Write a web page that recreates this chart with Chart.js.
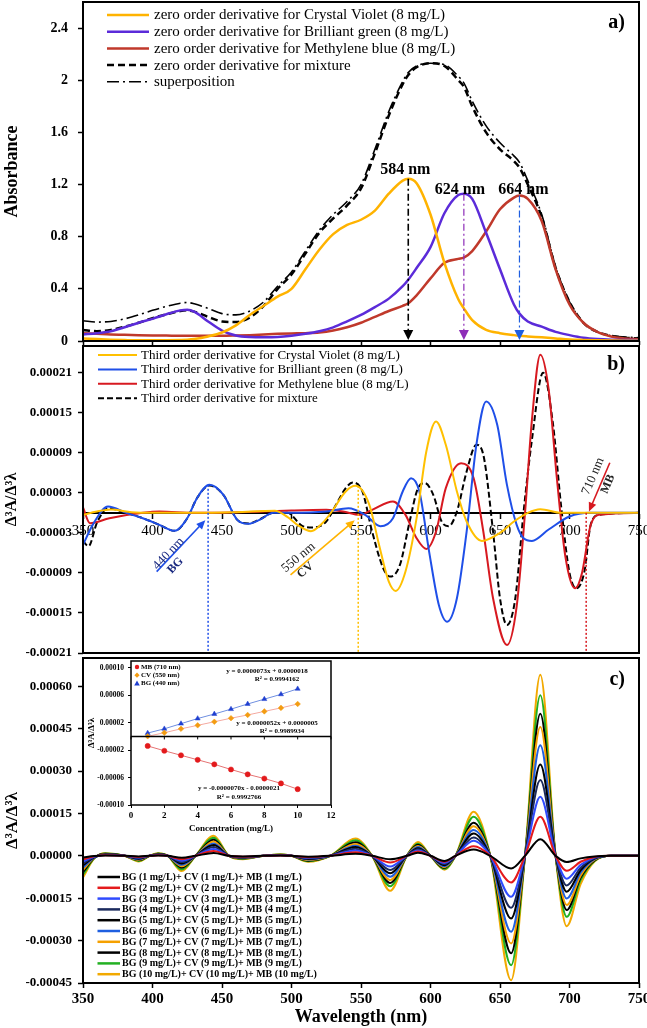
<!DOCTYPE html>
<html>
<head>
<meta charset="utf-8">
<script src="https://cdn.jsdelivr.net/npm/chart.js@4.4.0/dist/chart.umd.min.js"></script>
<style>
html, body { margin: 0; padding: 0; background: #fff; }
body { width: 647px; height: 1028px; position: relative; overflow: hidden; }
canvas { position: absolute; }
#ca { left: 0; top: 0; }
#cb { left: 0; top: 343px; }
#cc { left: 0; top: 656px; }
#ci { left: 86px; top: 655px; }
</style>
</head>
<body>
<canvas id="ca" width="647" height="345"></canvas>
<canvas id="cb" width="647" height="313"></canvas>
<canvas id="cc" width="647" height="372"></canvas>
<canvas id="ci" width="254" height="180"></canvas>
<script>
var SERIF = '"Liberation Serif", "Times New Roman", serif';
var U = 1e-5; // panel b/c values are written in units of 1e-5

// ---- a) zero order spectra (absorbance) ----
var aX = [350,360,370,380,390,400,410,420,425,430,440,450,460,470,480,490,500,510,520,530,540,550,560,570,580,584,590,600,610,620,624,630,640,650,660,664,670,680,690,700,710,720,730,740,750];
var cvZero = [.02,.015,.01,.007,.005,.005,.006,.008,.01,.015,.035,.065,.12,.2,.27,.34,.40,.55,.70,.82,.89,.93,1.0,1.13,1.23,1.245,1.21,.97,.60,.32,.25,.16,.085,.06,.045,.04,.035,.028,.02,.012,.008,.005,.003,.002,.002];
var bgZero = [.05,.06,.075,.105,.14,.17,.205,.235,.24,.225,.15,.08,.042,.03,.028,.03,.04,.055,.075,.105,.15,.2,.26,.325,.42,.47,.56,.72,.98,1.12,1.13,1.09,.83,.55,.28,.21,.15,.11,.07,.045,.025,.015,.01,.008,.006];
var mbZero = [.06,.055,.05,.048,.045,.043,.042,.04,.04,.04,.04,.04,.042,.045,.05,.055,.058,.06,.065,.08,.105,.14,.185,.23,.27,.29,.35,.48,.6,.63,.64,.69,.84,1.01,1.1,1.115,1.09,.92,.55,.28,.14,.07,.035,.02,.012];
var mixZero = [.085,.075,.085,.11,.14,.175,.205,.23,.235,.225,.185,.15,.145,.18,.27,.4,.51,.67,.83,.94,1.04,1.17,1.44,1.73,1.97,2.04,2.1,2.13,2.11,2.0,1.95,1.8,1.6,1.47,1.38,1.33,1.2,.95,.56,.3,.14,.07,.04,.025,.02];
var supZero = [.155,.145,.15,.17,.2,.235,.265,.29,.295,.285,.25,.21,.2,.23,.3,.42,.53,.69,.85,.97,1.07,1.2,1.47,1.76,1.99,2.06,2.11,2.13,2.12,2.03,1.98,1.84,1.65,1.52,1.42,1.37,1.23,.97,.57,.3,.14,.07,.04,.03,.025];
var peakNm = [584, 624, 664];
var aYTicks = [0, 0.4, 0.8, 1.2, 1.6, 2, 2.4];
var nmTicks = [350, 400, 450, 500, 550, 600, 650, 700, 750];

// ---- b) third order derivative, 8 mg/L ----
var cvD3x = [350,360,370,385,400,430,460,488,497,505,514,522,529,539,546,556,563,570,575,582,590,597,604,611,619,626,637,650,660,670,679,694,710,750];
var cvD3 = [-0.3,0.2,0.5,0.1,0,0,0.1,0.3,-0.6,-1.9,-2.75,-1.6,0.2,3.2,4.05,1.2,-4.8,-10.3,-11.7,-8.8,-0.8,9.2,13.7,10.2,3.2,-1.3,-4.2,-3.0,-1.3,0,0.55,0,0,0];
var bgD3x = [350,357,368,381,393,405,416,425,432,441,451,461,469,477,487,500,525,541,553,564,573,580,586,592,599,606,612,619,626,633,640,648,655,662,667,673,685,700,715,750];
var bgD3 = [-4.8,-1.8,0.95,0,-0.8,-1.8,-2.7,-0.8,2.2,4.2,2.7,-1.05,-1.65,-1.05,0,0,0.2,0.7,-0.3,-2.0,-0.8,3.2,5.2,3.2,-5.8,-13.8,-16.3,-12.8,-2.8,10.2,16.7,13.2,4.2,-1.8,-3.8,-4.2,-2.5,-0.55,0,0];
var mbD3x = [350,355,369,393,405,430,480,500,525,537,549,558,573,582,590,597,604,611,622,631,638,645,655,662,668,673,679,685,691,697,704,709,715,721,750];
var mbD3 = [0.8,-1.55,-0.8,0,0.2,0,0.2,0.35,0.45,0.2,-0.3,0.45,1.7,-0.3,-3.8,-5.4,-2.8,3.7,7.45,5.2,-2.8,-12.8,-19.8,-14,0,14,23.7,18.5,5,-6.5,-11.3,-9,-2,-0.3,0];
var mixD3x = [350,354,360,368,381,393,405,416,425,432,441,451,461,469,477,487,497,508,515,525,532,539,544,551,558,566,571,578,585,591,596,602,608,613,619,626,633,638,645,650,655,661,667,673,681,688,694,700,705,711,715,721,750];
var mixD3 = [-4.2,-5.0,-1.5,0.7,0,-0.8,-1.8,-2.7,-0.8,2.2,4.1,2.7,-1.05,-1.6,-1.0,0,0,-2.0,-2.2,-1.3,1.2,3.7,4.55,3.2,-2.8,-8.3,-9.55,-7.8,-1.3,3.7,4.45,2.7,-1.3,-2.0,0.2,6.2,10.2,8.7,-2.8,-12.8,-16.8,-12.8,0.2,11,21,13.5,0.95,-9,-11.3,-8.5,-2,-0.3,0];
var markNm = [440, 548, 712];
var bYTicks = [-0.00021, -0.00015, -0.00009, -0.00003, 0.00003, 0.00009, 0.00015, 0.00021];

// ---- c) third order derivative of mixtures, 1-10 mg/L ----
var cX = [350,358,366,380,390,398,404,411,421,431,444,455,465,480,492,500,512,528,546,558,571,583,591,600,610,618,631,643,658,668,679,690,698,708,718,730,750];
var mix1 = [-0.6,-0.1,0.1,0,-0.2,0,0.1,0,-0.7,0,1.0,0,-0.2,0,0.1,0,-0.3,0,0.7,0,-1.2,0,1.1,0,-1.8,0,2.2,0,-4.5,0,5.9,0,-2.2,-0.9,-0.2,0,0];
var mix2 = [-1.3,-0.2,0.2,0,-0.4,0,0.2,0,-1.2,0,1.7,0,-0.3,0,0.1,0,-0.5,0,1.3,0,-2.4,0,1.5,0,-2.1,0,3.4,0,-9.4,0,13.8,0,-5.3,-2.1,-0.4,0,0];
var mix3 = [-2.0,-0.3,0.3,0,-0.6,0,0.3,0,-1.7,0,2.4,0,-0.4,0,0.2,0,-0.7,0,1.9,0,-3.8,0,1.9,0,-2.5,0,5.3,0,-14.5,0,20.9,0,-8.1,-3.2,-0.6,0,0];
var mix4 = [-2.7,-0.4,0.4,0,-0.8,0,0.4,0,-2.2,0,3.1,0,-0.5,0,0.2,0,-0.9,0,2.5,0,-5.0,0,2.3,0,-2.9,0,6.5,0,-18.4,0,26.8,0,-10.5,-4.2,-0.8,0,0];
var mix5 = [-3.4,-0.5,0.5,0,-1.0,0,0.5,0,-2.7,0,3.8,0,-0.6,0,0.3,0,-1.1,0,3.1,0,-6.2,0,2.7,0,-3.3,0,7.9,0,-22.2,0,32.3,0,-12.7,-5.1,-1.0,0,0];
var mix6 = [-4.2,-0.6,0.5,0,-1.2,0,0.5,0,-3.2,0,4.4,0,-0.7,0,0.3,0,-1.3,0,3.6,0,-7.4,0,3.1,0,-3.7,0,9.1,0,-26.9,0,39.1,0,-15.1,-6.0,-1.2,0,0];
var mix7 = [-5.0,-0.7,0.6,0,-1.4,0,0.6,0,-3.7,0,5.1,0,-0.8,0,0.4,0,-1.5,0,4.2,0,-8.6,0,3.5,0,-4.0,0,10.5,0,-31.0,0,45.6,0,-17.4,-7.0,-1.4,0,0];
var mix8 = [-5.8,-0.8,0.7,0,-1.6,0,0.7,0,-4.2,0,5.7,0,-0.9,0,0.4,0,-1.7,0,4.8,0,-9.6,0,3.9,0,-4.3,0,11.7,0,-34.5,0,50.3,0,-19.2,-7.7,-1.6,0,0];
var mix9 = [-6.7,-0.9,0.8,0,-1.8,0,0.8,0,-4.8,0,6.4,0,-1.0,0,0.5,0,-1.9,0,5.5,0,-10.8,0,4.3,0,-4.6,0,13.8,0,-38.7,0,56.8,0,-21.6,-8.6,-1.8,0,0];
var mix10 = [-7.7,-1.0,0.9,0,-2.0,0,0.9,0,-5.4,0,7.1,0,-1.2,0,0.5,0,-2.1,0,6.1,0,-12.4,0,4.9,0,-4.9,0,15.6,0,-44.0,0,64.1,0,-24.9,-10.0,-2.0,0,0];
var conc = [1, 2, 3, 4, 5, 6, 7, 8, 9, 10];
var cYTicks = [-0.00045, -0.0003, -0.00015, 0, 0.00015, 0.0003, 0.00045, 0.0006];

// ---- inset calibration ----
var mbCal = [-1.39,-2.09,-2.75,-3.41,-4.07,-4.82,-5.53,-6.14,-6.85,-7.69];
var cvCal = [0.02,0.54,1.11,1.62,2.14,2.66,3.13,3.65,4.16,4.73];
var bgCal = [0.49,1.11,1.86,2.61,3.27,3.98,4.73,5.44,6.14,6.94];
var calXTicks = [0, 2, 4, 6, 8, 10, 12];
var calYTicks = [-0.0001, -0.00006, -0.00002, 0.00002, 0.00006, 0.0001];

// ---------- helpers ----------
function line(label, xs, ys, color, width, dash, k) {
  k = k || 1;
  return {
    label: label,
    data: xs.map(function (x, i) { return { x: x, y: ys[i] * k }; }),
    borderColor: color, backgroundColor: color,
    borderWidth: width, borderDash: dash || [],
    pointRadius: 0, fill: false,
    cubicInterpolationMode: 'monotone',
    borderJoinStyle: 'round'
  };
}
function fixTicks(list) { return function (s) { s.ticks = list.map(function (v) { return { value: v }; }); }; }
function fitW(w) { return function (s) { s.width = w; s.paddingTop = 0; s.paddingBottom = 0; }; }
function fitH(h) { return function (s) { s.height = h; s.paddingLeft = 0; s.paddingRight = 0; }; }
function valueAt(xs, ys, nm) {
  var best = 0;
  xs.forEach(function (x, i) { if (Math.abs(x - nm) < Math.abs(xs[best] - nm)) best = i; });
  return ys[best];
}
function yAxis(min, max, ticks, fmt, size, pad, title, tsize) {
  return {
    type: 'linear', min: min, max: max,
    afterBuildTicks: fixTicks(ticks), afterFit: fitW(83),
    ticks: { color: '#000', font: { family: SERIF, size: size, weight: 'bold' }, padding: pad, callback: fmt, autoSkip: false },
    grid: { drawOnChartArea: false, tickLength: 5, tickColor: '#000', tickWidth: 1.5 },
    border: { display: false },
    title: { display: true, text: title, color: '#000', font: { family: SERIF, size: tsize, weight: 'bold' }, padding: { top: 2, bottom: 0 } }
  };
}

var frame = {
  id: 'frame',
  afterDraw: function (chart, args, o) {
    var ctx = chart.ctx, a = chart.chartArea;
    ctx.save();
    ctx.strokeStyle = '#000';
    ctx.lineWidth = o.width || 2;
    ctx.strokeRect(a.left, a.top, a.right - a.left, a.bottom - a.top);
    if (o.tag) {
      ctx.fillStyle = '#000';
      ctx.font = 'bold 20px ' + SERIF;
      ctx.textAlign = 'right';
      ctx.textBaseline = 'middle';
      ctx.fillText(o.tag, a.right - 14, a.top + o.tagY);
    }
    ctx.restore();
  }
};

var lineLegend = {
  id: 'lineLegend',
  afterDraw: function (chart, args, o) {
    var ctx = chart.ctx, a = chart.chartArea;
    ctx.save();
    ctx.font = o.font;
    ctx.textAlign = 'left';
    ctx.textBaseline = 'middle';
    chart.data.datasets.forEach(function (ds, k) {
      var y = a.top + o.top + k * o.step, x0 = a.left + o.left;
      ctx.strokeStyle = ds.borderColor;
      ctx.lineWidth = o.lw || ds.borderWidth;
      ctx.setLineDash(ds.borderDash || []);
      ctx.beginPath(); ctx.moveTo(x0, y); ctx.lineTo(x0 + o.len, y); ctx.stroke();
      ctx.setLineDash([]);
      ctx.fillStyle = '#000';
      ctx.fillText(ds.label, x0 + o.len + o.gap, y + 0.5);
    });
    ctx.restore();
  }
};

// dash-dot drop lines from the peaks of panel a
var peakArrows = {
  id: 'peakArrows',
  afterDatasetsDraw: function (chart, args, o) {
    var ctx = chart.ctx, x = chart.scales.x, y = chart.scales.y;
    o.items.forEach(function (it) {
      var px = x.getPixelForValue(it.nm), top = y.getPixelForValue(it.val), base = y.getPixelForValue(0);
      ctx.save();
      ctx.strokeStyle = it.color; ctx.lineWidth = it.width;
      ctx.setLineDash([7, 3, 2, 3]);
      ctx.beginPath(); ctx.moveTo(px, top); ctx.lineTo(px, base - 9); ctx.stroke();
      ctx.setLineDash([]);
      ctx.fillStyle = it.head;
      ctx.beginPath(); ctx.moveTo(px - 5, base - 11); ctx.lineTo(px + 5, base - 11); ctx.lineTo(px, base - 1); ctx.closePath(); ctx.fill();
      ctx.fillStyle = '#000';
      ctx.font = 'bold 16px ' + SERIF;
      ctx.textAlign = 'center'; ctx.textBaseline = 'alphabetic';
      ctx.fillText(it.nm + ' nm', px + it.dx, top + it.dy);
      ctx.restore();
    });
  }
};

// dotted markers and labelled arrows of panel b
var bMarks = {
  id: 'bMarks',
  afterDatasetsDraw: function (chart, args, o) {
    var ctx = chart.ctx, x = chart.scales.x, y = chart.scales.y, a = chart.chartArea;
    ctx.save();
    o.lines.forEach(function (l) {
      var px = x.getPixelForValue(l.nm);
      ctx.strokeStyle = l.color; ctx.lineWidth = 1.5; ctx.setLineDash([2, 2]);
      ctx.beginPath(); ctx.moveTo(px, y.getPixelForValue(l.top)); ctx.lineTo(px, a.bottom); ctx.stroke();
    });
    ctx.setLineDash([]);
    o.arrows.forEach(function (ar) {
      var x1 = x.getPixelForValue(ar.from[0]), y1 = y.getPixelForValue(ar.from[1] * U);
      var x2 = x.getPixelForValue(ar.to[0]), y2 = y.getPixelForValue(ar.to[1] * U);
      var ang = Math.atan2(y2 - y1, x2 - x1);
      ctx.strokeStyle = ar.color; ctx.fillStyle = ar.color; ctx.lineWidth = 1.6;
      ctx.beginPath(); ctx.moveTo(x1, y1); ctx.lineTo(x2 - 6 * Math.cos(ang), y2 - 6 * Math.sin(ang)); ctx.stroke();
      ctx.beginPath();
      ctx.moveTo(x2, y2);
      ctx.lineTo(x2 - 9 * Math.cos(ang) + 4 * Math.sin(ang), y2 - 9 * Math.sin(ang) - 4 * Math.cos(ang));
      ctx.lineTo(x2 - 9 * Math.cos(ang) - 4 * Math.sin(ang), y2 - 9 * Math.sin(ang) + 4 * Math.cos(ang));
      ctx.closePath(); ctx.fill();
      ar.texts.forEach(function (t) {
        ctx.save();
        ctx.translate(x.getPixelForValue(t.at[0]), y.getPixelForValue(t.at[1] * U));
        ctx.rotate(ar.rot * Math.PI / 180);
        ctx.font = t.font;
        ctx.fillStyle = t.color;
        ctx.textAlign = 'center'; ctx.textBaseline = 'middle';
        ctx.fillText(t.text, 0, 0);
        ctx.restore();
      });
    });
    ctx.restore();
  }
};

// legend, zero axis and fit equations of the inset
var calText = {
  id: 'calText',
  afterDraw: function (chart, args, o) {
    var ctx = chart.ctx, a = chart.chartArea, x = chart.scales.x, y = chart.scales.y;
    ctx.save();
    ctx.strokeStyle = '#000'; ctx.lineWidth = 1.5;
    var y0 = y.getPixelForValue(0);
    ctx.beginPath(); ctx.moveTo(a.left, y0); ctx.lineTo(a.right, y0); ctx.stroke();
    ctx.lineWidth = 1;
    calXTicks.forEach(function (v) {
      var px = x.getPixelForValue(v);
      ctx.beginPath(); ctx.moveTo(px, y0); ctx.lineTo(px, y0 + 3); ctx.stroke();
    });
    ctx.font = 'bold 7px ' + SERIF;
    ctx.textBaseline = 'middle';
    chart.data.datasets.forEach(function (ds, k) {
      var sx = a.left + 6, sy = a.top + 6 + k * 8.2;
      ctx.fillStyle = ds.pointBackgroundColor;
      ctx.beginPath();
      if (ds.pointStyle === 'circle') { ctx.arc(sx, sy, 2.2, 0, Math.PI * 2); }
      else if (ds.pointStyle === 'rectRot') { ctx.moveTo(sx, sy - 2.6); ctx.lineTo(sx + 2.6, sy); ctx.lineTo(sx, sy + 2.6); ctx.lineTo(sx - 2.6, sy); }
      else { ctx.moveTo(sx, sy - 2.8); ctx.lineTo(sx + 2.8, sy + 2.2); ctx.lineTo(sx - 2.8, sy + 2.2); }
      ctx.closePath(); ctx.fill();
      ctx.fillStyle = '#000'; ctx.textAlign = 'left';
      ctx.fillText(ds.label, sx + 4, sy);
    });
    ctx.textAlign = 'center';
    o.eqs.forEach(function (e) { ctx.fillText(e.text, a.left + e.dx, a.top + e.dy); });
    ctx.restore();
  }
};

// ---------- a) ----------
new Chart(document.getElementById('ca'), {
  type: 'line',
  data: { datasets: [
    line('zero order derivative for Crystal Violet (8 mg/L)', aX, cvZero, '#FFB300', 2.5),
    line('zero order derivative for Brilliant green (8 mg/L)', aX, bgZero, '#5B2BD9', 2.5),
    line('zero order derivative for Methylene blue (8 mg/L)', aX, mbZero, '#C0392B', 2.5),
    line('zero order derivative for mixture', aX, mixZero, '#000000', 2.5, [7, 4]),
    line('superposition', aX, supZero, '#000000', 1.6, [12, 4, 2, 4])
  ] },
  options: {
    animation: false, responsive: false,
    layout: { padding: { top: 2, right: 8, bottom: 0, left: 0 }, autoPadding: false },
    plugins: {
      legend: { display: false }, tooltip: { enabled: false },
      frame: { tag: 'a)', tagY: 21 },
      lineLegend: { font: '15px ' + SERIF, left: 24, top: 13, step: 16.7, len: 42, gap: 5 },
      peakArrows: { items: [
        { nm: peakNm[0], val: valueAt(aX, cvZero, peakNm[0]), color: '#000', head: '#000', width: 1.6, dx: -3, dy: -5 },
        { nm: peakNm[1], val: valueAt(aX, bgZero, peakNm[1]), color: '#8E2DB8', head: '#8E2DB8', width: 1.2, dx: -4, dy: 0 },
        { nm: peakNm[2], val: valueAt(aX, mbZero, peakNm[2]), color: '#1F5FE0', head: '#1F5FE0', width: 1.2, dx: 4, dy: -2 }
      ] }
    },
    scales: {
      x: {
        type: 'linear', min: 350, max: 750,
        afterBuildTicks: fixTicks(nmTicks), afterFit: fitH(4),
        ticks: { color: 'rgba(0,0,0,0)', maxRotation: 0, autoSkip: false },
        grid: { drawOnChartArea: false, tickLength: 5, tickColor: '#000', tickWidth: 1.5 },
        border: { display: false }
      },
      y: yAxis(0, 2.6, aYTicks, function (v) { return String(+v.toFixed(1)); }, 14, 10, 'Absorbance', 18)
    }
  },
  plugins: [frame, lineLegend, peakArrows]
});

// ---------- b) ----------
new Chart(document.getElementById('cb'), {
  type: 'line',
  data: { datasets: [
    line('Third order derivative for Crystal Violet (8 mg/L)', cvD3x, cvD3, '#FFC000', 2, null, U),
    line('Third order derivative for Brilliant green (8 mg/L)', bgD3x, bgD3, '#1F4FE8', 2, null, U),
    line('Third order derivative for Methylene blue (8 mg/L)', mbD3x, mbD3, '#D71920', 2, null, U),
    line('Third order derivative for mixture', mixD3x, mixD3, '#000000', 2, [6, 3], U)
  ] },
  options: {
    animation: false, responsive: false,
    layout: { padding: { top: 3, right: 8, bottom: 3, left: 0 }, autoPadding: false },
    plugins: {
      legend: { display: false }, tooltip: { enabled: false },
      frame: { tag: 'b)', tagY: 19 },
      lineLegend: { font: '13px ' + SERIF, left: 15, top: 9, step: 14.4, len: 39, gap: 4 },
      bMarks: {
        lines: [
          { nm: markNm[0], top: valueAt(bgD3x, bgD3, markNm[0]) * U, color: '#1F4FE8' },
          { nm: markNm[1], top: valueAt(cvD3x, cvD3, markNm[1]) * U, color: '#FFC000' },
          { nm: markNm[2], top: 0, color: '#D71920' }
        ],
        arrows: [
          { from: [403, -8.8], to: [438, -1.1], color: '#1F4FE8', rot: -47, texts: [
            { text: '440 nm', at: [411.5, -6.1], font: '13px ' + SERIF, color: '#1B2A80' },
            { text: 'BG', at: [416.5, -7.9], font: 'bold 12px ' + SERIF, color: '#1B2A80' } ] },
          { from: [499.3, -9.3], to: [545.5, -1.1], color: '#FFB300', rot: -40, texts: [
            { text: '550 nm', at: [505, -6.7], font: '13px ' + SERIF, color: '#222' },
            { text: 'CV', at: [510, -8.6], font: 'bold 12px ' + SERIF, color: '#222' } ] },
          { from: [729, 7.5], to: [714, 0.2], color: '#D71920', rot: -67, texts: [
            { text: '710 nm', at: [717, 5.5], font: '13px ' + SERIF, color: '#222' },
            { text: 'MB', at: [727.7, 4.3], font: 'bold 12px ' + SERIF, color: '#222' } ] }
        ]
      }
    },
    scales: {
      x: {
        type: 'linear', min: 350, max: 750, position: { y: 0 },
        afterBuildTicks: fixTicks(nmTicks), afterFit: fitH(0),
        ticks: { color: '#000', font: { family: SERIF, size: 15 }, padding: 4, maxRotation: 0, autoSkip: false },
        grid: { drawOnChartArea: false, tickLength: 5, tickColor: '#000', tickWidth: 1.5 },
        border: { display: true, color: '#000', width: 2 }
      },
      y: yAxis(-0.00021, 0.00025, bYTicks, function (v) { return v.toFixed(5); }, 13, 6, 'Δ³A/Δ³λ', 16)
    }
  },
  plugins: [frame, lineLegend, bMarks]
});

// ---------- c) ----------
var cColors = ['#000000', '#E41A1C', '#2F4BFF', '#1B2A5E', '#000000', '#1F5FE0', '#F5A000', '#000000', '#22B022', '#F2A900'];
var cSeries = [mix1, mix2, mix3, mix4, mix5, mix6, mix7, mix8, mix9, mix10];
new Chart(document.getElementById('cc'), {
  type: 'line',
  data: { datasets: cSeries.map(function (s, i) {
    var c = conc[i];
    return line('BG (' + c + ' mg/L)+ CV (' + c + ' mg/L)+ MB (' + c + ' mg/L)', cX, s, cColors[i], 2, null, U);
  }) },
  options: {
    animation: false, responsive: false,
    layout: { padding: { top: 2, right: 8, bottom: 0, left: 0 }, autoPadding: false },
    plugins: {
      legend: { display: false }, tooltip: { enabled: false },
      frame: { tag: 'c)', tagY: 22 },
      lineLegend: { font: 'bold 10px ' + SERIF, left: 14.5, top: 219, step: 10.8, len: 22.5, gap: 2, lw: 2.5 }
    },
    scales: {
      x: {
        type: 'linear', min: 350, max: 750,
        afterBuildTicks: fixTicks(nmTicks), afterFit: fitH(45),
        ticks: { color: '#000', font: { family: SERIF, size: 15, weight: 'bold' }, padding: 2, maxRotation: 0, autoSkip: false },
        grid: { drawOnChartArea: false, tickLength: 5, tickColor: '#000', tickWidth: 1.5 },
        border: { display: false },
        title: { display: true, text: 'Wavelength (nm)', color: '#000', font: { family: SERIF, size: 18, weight: 'bold' }, padding: { top: 0, bottom: 0 } }
      },
      y: yAxis(-0.00045, 0.0007, cYTicks, function (v) { return v.toFixed(5); }, 13, 6, 'Δ³A/Δ³λ', 17)
    }
  },
  plugins: [frame, lineLegend]
});

// ---------- inset ----------
function calSet(label, ys, pointColor, lineColor, style, r) {
  return {
    label: label,
    data: conc.map(function (c, i) { return { x: c, y: ys[i] * U }; }),
    showLine: true, borderColor: lineColor, borderWidth: 1,
    pointBackgroundColor: pointColor, pointBorderColor: pointColor,
    pointStyle: style, pointRadius: r, pointBorderWidth: 0.5
  };
}
new Chart(document.getElementById('ci'), {
  type: 'scatter',
  data: { datasets: [
    calSet('MB (710 nm)', mbCal, '#E31A1C', '#E57373', 'circle', 2.6),
    calSet('CV (550 nm)', cvCal, '#F39C12', '#F4A9A0', 'rectRot', 2.8),
    calSet('BG (440 nm)', bgCal, '#1F3FD0', '#6F8FE0', 'triangle', 2.9)
  ] },
  options: {
    animation: false, responsive: false,
    layout: { padding: { top: 6, right: 9, bottom: 0, left: 0 }, autoPadding: false },
    plugins: {
      legend: { display: false }, tooltip: { enabled: false },
      frame: { width: 1.5 },
      calText: { eqs: [
        { text: 'y = 0.0000073x + 0.0000018', dx: 136, dy: 10 },
        { text: 'R² = 0.9994162', dx: 146, dy: 18 },
        { text: 'y = 0.0000052x + 0.0000005', dx: 146, dy: 62 },
        { text: 'R² = 0.9989934', dx: 151, dy: 70 },
        { text: 'y = -0.0000070x - 0.0000021', dx: 108, dy: 127 },
        { text: 'R² = 0.9992766', dx: 108, dy: 136 }
      ] }
    },
    scales: {
      x: {
        type: 'linear', min: 0, max: 12,
        afterBuildTicks: fixTicks(calXTicks), afterFit: fitH(30),
        ticks: { color: '#000', font: { family: SERIF, size: 9, weight: 'bold' }, padding: 2, maxRotation: 0, autoSkip: false },
        grid: { drawOnChartArea: false, tickLength: 3, tickColor: '#000' },
        border: { display: false },
        title: { display: true, text: 'Concentration (mg/L)', color: '#000', font: { family: SERIF, size: 9, weight: 'bold' }, padding: { top: 0, bottom: 1 } }
      },
      y: {
        type: 'linear', min: -0.0001, max: 0.00011,
        afterBuildTicks: fixTicks(calYTicks), afterFit: fitW(45),
        ticks: { color: '#000', font: { family: SERIF, size: 7.5, weight: 'bold' }, padding: 4, autoSkip: false, callback: function (v) { return v.toFixed(5); } },
        grid: { drawOnChartArea: false, tickLength: 3, tickColor: '#000' },
        border: { display: false },
        title: { display: true, text: 'Δ³A/Δ³λ', color: '#000', font: { family: SERIF, size: 9, weight: 'bold' }, padding: { top: 0, bottom: 0 } }
      }
    }
  },
  plugins: [frame, calText]
});
</script>
</body>
</html>
